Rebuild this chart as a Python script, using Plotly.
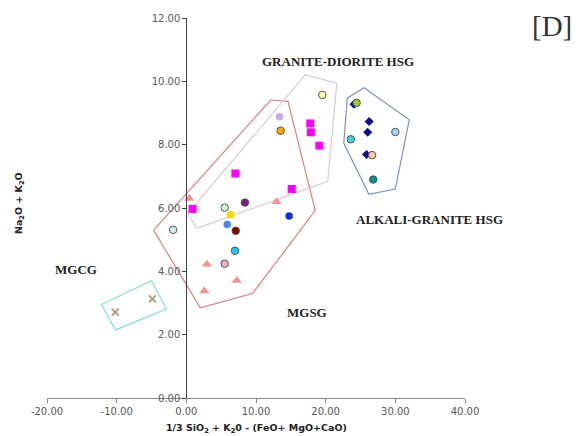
import plotly.graph_objects as go

# ---- data ----
tri_x = [0.42, 2.96, 2.59, 7.25, 12.96]
tri_y = [6.30, 4.22, 3.38, 3.71, 6.20]

sq_x = [0.90, 7.04, 15.13, 17.78, 17.88, 19.10]
sq_y = [5.97, 7.09, 6.60, 8.67, 8.39, 7.97]

cross_x = [-10.21, -4.87]
cross_y = [2.71, 3.13]

dia_x = [24.07, 26.24, 26.03, 25.87]
dia_y = [9.28, 8.73, 8.39, 7.69]

circ_x = [-1.90, 5.50, 6.35, 5.87, 7.09, 8.41, 6.98, 5.50, 13.39, 13.54, 14.76,
          19.52, 24.44, 23.60, 30.00, 26.67, 26.83]
circ_y = [5.31, 6.01, 5.79, 5.48, 5.28, 6.17, 4.65, 4.24, 8.88, 8.44, 5.75,
          9.57, 9.32, 8.17, 8.40, 7.67, 6.90]
circ_colors = ['#CDF2F2', '#CCFFCC', '#FFD700', '#4A86F0', '#8B0000', '#7D1F7D',
               '#1EC8F0', '#F6A6CF', '#CFA6F0', '#FFA500', '#0A3ACF', '#FFFFA6',
               '#9ACD32', '#40D0D0', '#A6D2F5', '#FFCC99', '#0E8A8A']
circ_outline = [1, 1, 0, 0, 1, 1, 1, 1, 0, 1, 0, 1, 1, 1, 1, 1, 1]

# field boundaries (closed polygons)
mgsg_x = [-4.7, 12.1, 14.6, 18.5, 9.5, 2.0, -4.7]
mgsg_y = [5.30, 9.41, 9.37, 5.92, 3.30, 2.85, 5.30]

gd_x = [0.2, 17.1, 21.6, 20.3, 1.5, 0.2]
gd_y = [5.83, 10.21, 9.94, 6.84, 5.36, 5.83]

ag_x = [23.1, 25.5, 32.0, 30.0, 26.2, 22.6, 23.1]
ag_y = [9.47, 9.80, 8.79, 6.60, 6.43, 8.05, 9.47]

mgcg_x = [-12.2, -5.0, -2.85, -10.15, -12.2]
mgcg_y = [2.95, 3.70, 2.81, 2.15, 2.95]

x_ticks = [-20, -10, 0, 10, 20, 30, 40]
x_ticktext = ['-20.00', '-10.00', '0.00', '10.00', '20.00', '30.00', '40.00']
y_ticks = [0, 2, 4, 6, 8, 10, 12]
y_ticktext = ['0.00', '2.00', '4.00', '6.00', '8.00', '10.00', '12.00']

fig = go.Figure()

for px, py, col in [(mgsg_x, mgsg_y, '#D98080'), (gd_x, gd_y, '#DCC6E2'),
                    (ag_x, ag_y, '#8095B8'), (mgcg_x, mgcg_y, '#80DADA')]:
    fig.add_trace(go.Scatter(x=px, y=py, mode='lines',
                             line=dict(color=col, width=1.2), hoverinfo='skip'))

fig.add_trace(go.Scatter(x=tri_x, y=tri_y, mode='markers',
                         marker=dict(symbol='triangle-up', size=9, color='#F4938E')))
fig.add_trace(go.Scatter(x=sq_x, y=sq_y, mode='markers',
                         marker=dict(symbol='square', size=8, color='#FF00FF')))
fig.add_trace(go.Scatter(x=cross_x, y=cross_y, mode='markers',
                         marker=dict(symbol='x-thin', size=7, color='#A8947A',
                                     line=dict(color='#A8947A', width=1.6))))
fig.add_trace(go.Scatter(x=dia_x, y=dia_y, mode='markers',
                         marker=dict(symbol='diamond', size=7, color='#0A0A8C')))
fig.add_trace(go.Scatter(x=circ_x, y=circ_y, mode='markers',
                         marker=dict(symbol='circle', size=7.5, color=circ_colors,
                                     line=dict(color='#555555',
                                               width=[w * 1.0 for w in circ_outline]))))

serif = 'Liberation Serif, Times New Roman, serif'
labels = [
    ('GRANITE-DIORITE HSG', 21.75, 10.63),
    ('ALKALI-GRANITE HSG', 34.88, 5.63),
    ('MGCG', -15.86, 4.06),
    ('MGSG', 17.3, 2.69),
]
for t, lx, ly in labels:
    fig.add_annotation(x=lx, y=ly, xref='x', yref='y', text='<b>' + t + '</b>',
                       showarrow=False, font=dict(family=serif, size=13, color='#222222'),
                       xanchor='center', yanchor='middle')

fig.add_annotation(x=1.207, y=0.978, xref='paper', yref='paper', text='[D]',
                   showarrow=False, font=dict(family=serif, size=29, color='#333333'),
                   xanchor='center', yanchor='middle')

fig.add_annotation(x=-0.067, y=0.513, xref='paper', yref='paper',
                   text='<b>Na<sub>2</sub>O + K<sub>2</sub>O</b>', textangle=-90,
                   showarrow=False, font=dict(family='DejaVu Sans', size=9.5, color='#222222'),
                   xanchor='center', yanchor='middle')

fig.add_annotation(x=0.5, y=-0.079, xref='paper', yref='paper',
                   text='<b>1/3 SiO<sub>2</sub> + K<sub>2</sub>0 - (FeO+ MgO+CaO)</b>',
                   showarrow=False, font=dict(family='DejaVu Sans', size=9.5, color='#222222'),
                   xanchor='center', yanchor='middle')

fig.update_layout(
    width=580, height=436,
    margin=dict(l=47, r=115, t=14, b=38),
    plot_bgcolor='white', paper_bgcolor='white',
    showlegend=False,
    xaxis=dict(range=[-20, 40], domain=[0, 1], showgrid=False, zeroline=False,
               showline=True, linecolor='#868686', linewidth=1,
               ticks='outside', ticklen=4, tickcolor='#868686',
               tickvals=x_ticks, ticktext=x_ticktext,
               tickfont=dict(family='DejaVu Sans', size=10, color='#595959')),
    yaxis=dict(range=[0, 12], domain=[0, 1], anchor='free', position=1/3,
               showgrid=False, zeroline=False,
               showline=True, linecolor='#404040', linewidth=1,
               ticks='outside', ticklen=4, tickcolor='#404040',
               tickvals=y_ticks, ticktext=y_ticktext,
               tickfont=dict(family='DejaVu Sans', size=10, color='#595959')),
)

fig.write_html('out.html')
